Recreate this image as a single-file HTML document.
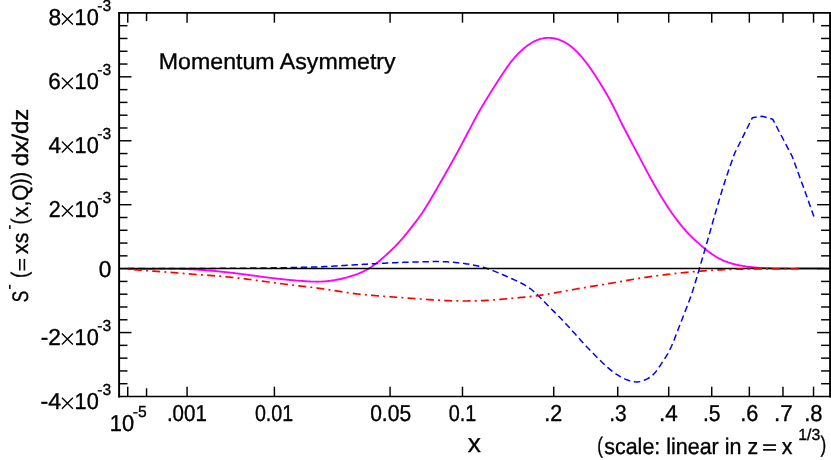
<!DOCTYPE html>
<html><head><meta charset="utf-8"><title>Momentum Asymmetry</title>
<style>
html,body{margin:0;padding:0;background:#fff;}
body{width:831px;height:460px;overflow:hidden;}
svg{display:block;will-change:transform;}
text{font-family:"Liberation Sans",sans-serif;fill:#000;stroke:#000;stroke-width:0.35px;stroke-linejoin:round;text-rendering:geometricPrecision;}
</style></head><body>
<svg width="831" height="460" viewBox="0 0 831 460">
<rect x="0" y="0" width="831" height="460" fill="#fff"/>
<g id="ticks">
<line x1="119.10" y1="25.69" x2="127.50" y2="25.69" stroke="#000" stroke-width="1.45"/>
<line x1="830.10" y1="25.69" x2="821.10" y2="25.69" stroke="#000" stroke-width="1.45"/>
<line x1="119.10" y1="38.47" x2="127.50" y2="38.47" stroke="#000" stroke-width="1.45"/>
<line x1="830.10" y1="38.47" x2="821.10" y2="38.47" stroke="#000" stroke-width="1.45"/>
<line x1="119.10" y1="51.26" x2="127.50" y2="51.26" stroke="#000" stroke-width="1.45"/>
<line x1="830.10" y1="51.26" x2="821.10" y2="51.26" stroke="#000" stroke-width="1.45"/>
<line x1="119.10" y1="64.05" x2="127.50" y2="64.05" stroke="#000" stroke-width="1.45"/>
<line x1="830.10" y1="64.05" x2="821.10" y2="64.05" stroke="#000" stroke-width="1.45"/>
<line x1="119.10" y1="76.83" x2="131.50" y2="76.83" stroke="#000" stroke-width="1.45"/>
<line x1="830.10" y1="76.83" x2="817.10" y2="76.83" stroke="#000" stroke-width="1.45"/>
<line x1="119.10" y1="89.62" x2="127.50" y2="89.62" stroke="#000" stroke-width="1.45"/>
<line x1="830.10" y1="89.62" x2="821.10" y2="89.62" stroke="#000" stroke-width="1.45"/>
<line x1="119.10" y1="102.41" x2="127.50" y2="102.41" stroke="#000" stroke-width="1.45"/>
<line x1="830.10" y1="102.41" x2="821.10" y2="102.41" stroke="#000" stroke-width="1.45"/>
<line x1="119.10" y1="115.19" x2="127.50" y2="115.19" stroke="#000" stroke-width="1.45"/>
<line x1="830.10" y1="115.19" x2="821.10" y2="115.19" stroke="#000" stroke-width="1.45"/>
<line x1="119.10" y1="127.98" x2="127.50" y2="127.98" stroke="#000" stroke-width="1.45"/>
<line x1="830.10" y1="127.98" x2="821.10" y2="127.98" stroke="#000" stroke-width="1.45"/>
<line x1="119.10" y1="140.77" x2="131.50" y2="140.77" stroke="#000" stroke-width="1.45"/>
<line x1="830.10" y1="140.77" x2="817.10" y2="140.77" stroke="#000" stroke-width="1.45"/>
<line x1="119.10" y1="153.55" x2="127.50" y2="153.55" stroke="#000" stroke-width="1.45"/>
<line x1="830.10" y1="153.55" x2="821.10" y2="153.55" stroke="#000" stroke-width="1.45"/>
<line x1="119.10" y1="166.34" x2="127.50" y2="166.34" stroke="#000" stroke-width="1.45"/>
<line x1="830.10" y1="166.34" x2="821.10" y2="166.34" stroke="#000" stroke-width="1.45"/>
<line x1="119.10" y1="179.13" x2="127.50" y2="179.13" stroke="#000" stroke-width="1.45"/>
<line x1="830.10" y1="179.13" x2="821.10" y2="179.13" stroke="#000" stroke-width="1.45"/>
<line x1="119.10" y1="191.91" x2="127.50" y2="191.91" stroke="#000" stroke-width="1.45"/>
<line x1="830.10" y1="191.91" x2="821.10" y2="191.91" stroke="#000" stroke-width="1.45"/>
<line x1="119.10" y1="204.70" x2="131.50" y2="204.70" stroke="#000" stroke-width="1.45"/>
<line x1="830.10" y1="204.70" x2="817.10" y2="204.70" stroke="#000" stroke-width="1.45"/>
<line x1="119.10" y1="217.49" x2="127.50" y2="217.49" stroke="#000" stroke-width="1.45"/>
<line x1="830.10" y1="217.49" x2="821.10" y2="217.49" stroke="#000" stroke-width="1.45"/>
<line x1="119.10" y1="230.27" x2="127.50" y2="230.27" stroke="#000" stroke-width="1.45"/>
<line x1="830.10" y1="230.27" x2="821.10" y2="230.27" stroke="#000" stroke-width="1.45"/>
<line x1="119.10" y1="243.06" x2="127.50" y2="243.06" stroke="#000" stroke-width="1.45"/>
<line x1="830.10" y1="243.06" x2="821.10" y2="243.06" stroke="#000" stroke-width="1.45"/>
<line x1="119.10" y1="255.85" x2="127.50" y2="255.85" stroke="#000" stroke-width="1.45"/>
<line x1="830.10" y1="255.85" x2="821.10" y2="255.85" stroke="#000" stroke-width="1.45"/>
<line x1="119.10" y1="268.63" x2="131.50" y2="268.63" stroke="#000" stroke-width="1.45"/>
<line x1="830.10" y1="268.63" x2="817.10" y2="268.63" stroke="#000" stroke-width="1.45"/>
<line x1="119.10" y1="281.42" x2="127.50" y2="281.42" stroke="#000" stroke-width="1.45"/>
<line x1="830.10" y1="281.42" x2="821.10" y2="281.42" stroke="#000" stroke-width="1.45"/>
<line x1="119.10" y1="294.21" x2="127.50" y2="294.21" stroke="#000" stroke-width="1.45"/>
<line x1="830.10" y1="294.21" x2="821.10" y2="294.21" stroke="#000" stroke-width="1.45"/>
<line x1="119.10" y1="306.99" x2="127.50" y2="306.99" stroke="#000" stroke-width="1.45"/>
<line x1="830.10" y1="306.99" x2="821.10" y2="306.99" stroke="#000" stroke-width="1.45"/>
<line x1="119.10" y1="319.78" x2="127.50" y2="319.78" stroke="#000" stroke-width="1.45"/>
<line x1="830.10" y1="319.78" x2="821.10" y2="319.78" stroke="#000" stroke-width="1.45"/>
<line x1="119.10" y1="332.57" x2="131.50" y2="332.57" stroke="#000" stroke-width="1.45"/>
<line x1="830.10" y1="332.57" x2="817.10" y2="332.57" stroke="#000" stroke-width="1.45"/>
<line x1="119.10" y1="345.35" x2="127.50" y2="345.35" stroke="#000" stroke-width="1.45"/>
<line x1="830.10" y1="345.35" x2="821.10" y2="345.35" stroke="#000" stroke-width="1.45"/>
<line x1="119.10" y1="358.14" x2="127.50" y2="358.14" stroke="#000" stroke-width="1.45"/>
<line x1="830.10" y1="358.14" x2="821.10" y2="358.14" stroke="#000" stroke-width="1.45"/>
<line x1="119.10" y1="370.93" x2="127.50" y2="370.93" stroke="#000" stroke-width="1.45"/>
<line x1="830.10" y1="370.93" x2="821.10" y2="370.93" stroke="#000" stroke-width="1.45"/>
<line x1="119.10" y1="383.71" x2="127.50" y2="383.71" stroke="#000" stroke-width="1.45"/>
<line x1="830.10" y1="383.71" x2="821.10" y2="383.71" stroke="#000" stroke-width="1.45"/>
<line x1="127.74" y1="396.50" x2="127.74" y2="386.70" stroke="#000" stroke-width="1.45"/>
<line x1="127.74" y1="12.90" x2="127.74" y2="22.70" stroke="#000" stroke-width="1.45"/>
<line x1="146.55" y1="396.50" x2="146.55" y2="388.30" stroke="#000" stroke-width="1.45"/>
<line x1="146.55" y1="12.90" x2="146.55" y2="21.10" stroke="#000" stroke-width="1.45"/>
<line x1="187.08" y1="396.50" x2="187.08" y2="386.70" stroke="#000" stroke-width="1.45"/>
<line x1="187.08" y1="12.90" x2="187.08" y2="22.70" stroke="#000" stroke-width="1.45"/>
<line x1="274.39" y1="396.50" x2="274.39" y2="386.70" stroke="#000" stroke-width="1.45"/>
<line x1="274.39" y1="12.90" x2="274.39" y2="22.70" stroke="#000" stroke-width="1.45"/>
<line x1="390.07" y1="396.50" x2="390.07" y2="386.70" stroke="#000" stroke-width="1.45"/>
<line x1="390.07" y1="12.90" x2="390.07" y2="22.70" stroke="#000" stroke-width="1.45"/>
<line x1="462.49" y1="396.50" x2="462.49" y2="386.70" stroke="#000" stroke-width="1.45"/>
<line x1="462.49" y1="12.90" x2="462.49" y2="22.70" stroke="#000" stroke-width="1.45"/>
<line x1="553.74" y1="396.50" x2="553.74" y2="386.70" stroke="#000" stroke-width="1.45"/>
<line x1="553.74" y1="12.90" x2="553.74" y2="22.70" stroke="#000" stroke-width="1.45"/>
<line x1="617.74" y1="396.50" x2="617.74" y2="386.70" stroke="#000" stroke-width="1.45"/>
<line x1="617.74" y1="12.90" x2="617.74" y2="22.70" stroke="#000" stroke-width="1.45"/>
<line x1="668.70" y1="396.50" x2="668.70" y2="386.70" stroke="#000" stroke-width="1.45"/>
<line x1="668.70" y1="12.90" x2="668.70" y2="22.70" stroke="#000" stroke-width="1.45"/>
<line x1="711.73" y1="396.50" x2="711.73" y2="386.70" stroke="#000" stroke-width="1.45"/>
<line x1="711.73" y1="12.90" x2="711.73" y2="22.70" stroke="#000" stroke-width="1.45"/>
<line x1="749.34" y1="396.50" x2="749.34" y2="386.70" stroke="#000" stroke-width="1.45"/>
<line x1="749.34" y1="12.90" x2="749.34" y2="22.70" stroke="#000" stroke-width="1.45"/>
<line x1="782.97" y1="396.50" x2="782.97" y2="386.70" stroke="#000" stroke-width="1.45"/>
<line x1="782.97" y1="12.90" x2="782.97" y2="22.70" stroke="#000" stroke-width="1.45"/>
<line x1="813.54" y1="396.50" x2="813.54" y2="386.70" stroke="#000" stroke-width="1.45"/>
<line x1="813.54" y1="12.90" x2="813.54" y2="22.70" stroke="#000" stroke-width="1.45"/>
</g>
<path d="M127.00,268.75 L128.17,268.78 L129.34,268.81 L130.52,268.84 L131.69,268.86 L132.86,268.88 L134.03,268.90 L135.20,268.91 L136.38,268.92 L137.55,268.93 L138.72,268.94 L139.89,268.95 L141.06,268.95 L142.24,268.95 L143.41,268.95 L144.58,268.95 L145.75,268.95 L146.92,268.95 L148.10,268.94 L149.27,268.94 L150.44,268.93 L151.61,268.93 L152.78,268.92 L153.95,268.91 L155.13,268.90 L156.30,268.90 L157.47,268.89 L158.64,268.88 L159.81,268.88 L160.99,268.87 L162.16,268.86 L163.33,268.86 L164.50,268.85 L165.67,268.85 L166.85,268.85 L168.02,268.85 L169.19,268.85 L170.36,268.85 L171.53,268.85 L172.71,268.86 L173.88,268.87 L175.05,268.88 L176.22,268.89 L177.39,268.91 L178.57,268.92 L179.74,268.94 L180.91,268.96 L182.08,268.99 L183.25,269.02 L184.43,269.05 L185.60,269.09 L186.77,269.12 L187.94,269.17 L189.11,269.21 L190.29,269.26 L191.46,269.32 L192.63,269.37 L193.80,269.44 L194.97,269.50 L196.15,269.57 L197.32,269.64 L198.49,269.72 L199.66,269.79 L200.83,269.88 L202.01,269.96 L203.18,270.05 L204.35,270.14 L205.52,270.23 L206.69,270.32 L207.86,270.42 L209.04,270.52 L210.21,270.62 L211.38,270.72 L212.55,270.83 L213.72,270.93 L214.90,271.04 L216.07,271.15 L217.24,271.26 L218.41,271.38 L219.58,271.49 L220.76,271.61 L221.93,271.73 L223.10,271.85 L224.27,271.98 L225.44,272.10 L226.62,272.23 L227.79,272.36 L228.96,272.49 L230.13,272.62 L231.30,272.76 L232.48,272.90 L233.65,273.04 L234.82,273.18 L235.99,273.32 L237.16,273.47 L238.34,273.61 L239.51,273.76 L240.68,273.91 L241.85,274.07 L243.02,274.22 L244.20,274.37 L245.37,274.53 L246.54,274.68 L247.71,274.84 L248.88,275.00 L250.06,275.16 L251.23,275.31 L252.40,275.47 L253.57,275.63 L254.74,275.79 L255.91,275.95 L257.09,276.11 L258.26,276.27 L259.43,276.42 L260.60,276.58 L261.77,276.74 L262.95,276.89 L264.12,277.05 L265.29,277.20 L266.46,277.35 L267.63,277.50 L268.81,277.65 L269.98,277.80 L271.15,277.95 L272.32,278.09 L273.49,278.23 L274.67,278.37 L275.84,278.51 L277.01,278.65 L278.18,278.78 L279.35,278.91 L280.53,279.04 L281.70,279.16 L282.87,279.29 L284.04,279.40 L285.21,279.52 L286.39,279.63 L287.56,279.74 L288.73,279.85 L289.90,279.96 L291.07,280.06 L292.25,280.16 L293.42,280.26 L294.59,280.36 L295.76,280.45 L296.93,280.55 L298.11,280.65 L299.28,280.74 L300.45,280.84 L301.62,280.93 L302.79,281.03 L303.96,281.12 L305.14,281.21 L306.31,281.29 L307.48,281.37 L308.65,281.44 L309.82,281.51 L311.00,281.57 L312.17,281.62 L313.34,281.66 L314.51,281.68 L315.68,281.70 L316.86,281.70 L318.03,281.69 L319.20,281.66 L320.37,281.63 L321.54,281.58 L322.72,281.51 L323.89,281.44 L325.06,281.35 L326.23,281.24 L327.40,281.13 L328.58,281.00 L329.75,280.86 L330.92,280.70 L332.09,280.54 L333.26,280.36 L334.44,280.17 L335.61,279.96 L336.78,279.75 L337.95,279.52 L339.12,279.28 L340.30,279.03 L341.47,278.76 L342.64,278.49 L343.81,278.20 L344.98,277.90 L346.16,277.59 L347.33,277.27 L348.50,276.94 L349.67,276.60 L350.84,276.24 L352.02,275.88 L353.19,275.50 L354.36,275.11 L355.53,274.69 L356.70,274.27 L357.87,273.82 L359.05,273.35 L360.22,272.86 L361.39,272.35 L362.56,271.81 L363.73,271.25 L364.91,270.66 L366.08,270.03 L367.25,269.38 L368.42,268.70 L369.59,267.98 L370.77,267.23 L371.94,266.45 L373.11,265.63 L374.28,264.79 L375.45,263.92 L376.63,263.03 L377.80,262.11 L378.97,261.17 L380.14,260.21 L381.31,259.22 L382.49,258.22 L383.66,257.20 L384.83,256.16 L386.00,255.11 L387.17,254.05 L388.35,252.97 L389.52,251.88 L390.69,250.78 L391.86,249.66 L393.03,248.52 L394.21,247.36 L395.38,246.18 L396.55,244.97 L397.72,243.74 L398.89,242.47 L400.07,241.18 L401.24,239.85 L402.41,238.49 L403.58,237.11 L404.75,235.70 L405.92,234.28 L407.10,232.83 L408.27,231.37 L409.44,229.89 L410.61,228.41 L411.78,226.91 L412.96,225.42 L414.13,223.91 L415.30,222.40 L416.47,220.87 L417.64,219.31 L418.82,217.72 L419.99,216.08 L421.16,214.41 L422.33,212.68 L423.50,210.91 L424.68,209.09 L425.85,207.24 L427.02,205.35 L428.19,203.43 L429.36,201.49 L430.54,199.51 L431.71,197.52 L432.88,195.51 L434.05,193.49 L435.22,191.46 L436.40,189.42 L437.57,187.38 L438.74,185.34 L439.91,183.30 L441.08,181.26 L442.26,179.22 L443.43,177.18 L444.60,175.13 L445.77,173.08 L446.94,171.02 L448.12,168.96 L449.29,166.89 L450.46,164.81 L451.63,162.72 L452.80,160.63 L453.97,158.52 L455.15,156.40 L456.32,154.28 L457.49,152.13 L458.66,149.98 L459.83,147.81 L461.01,145.62 L462.18,143.42 L463.35,141.21 L464.52,138.99 L465.69,136.76 L466.87,134.53 L468.04,132.30 L469.21,130.06 L470.38,127.83 L471.55,125.60 L472.73,123.37 L473.90,121.16 L475.07,118.96 L476.24,116.78 L477.41,114.63 L478.59,112.51 L479.76,110.43 L480.93,108.38 L482.10,106.38 L483.27,104.41 L484.45,102.47 L485.62,100.55 L486.79,98.65 L487.96,96.76 L489.13,94.87 L490.31,93.00 L491.48,91.13 L492.65,89.27 L493.82,87.42 L494.99,85.58 L496.17,83.74 L497.34,81.92 L498.51,80.10 L499.68,78.29 L500.85,76.49 L502.03,74.70 L503.20,72.93 L504.37,71.18 L505.54,69.45 L506.71,67.76 L507.88,66.10 L509.06,64.48 L510.23,62.91 L511.40,61.38 L512.57,59.91 L513.74,58.50 L514.92,57.14 L516.09,55.84 L517.26,54.59 L518.43,53.39 L519.60,52.24 L520.78,51.13 L521.95,50.07 L523.12,49.05 L524.29,48.07 L525.46,47.13 L526.64,46.23 L527.81,45.36 L528.98,44.53 L530.15,43.75 L531.32,43.01 L532.50,42.32 L533.67,41.67 L534.84,41.07 L536.01,40.52 L537.18,40.02 L538.36,39.58 L539.53,39.19 L540.70,38.85 L541.87,38.57 L543.04,38.33 L544.22,38.14 L545.39,38.00 L546.56,37.91 L547.73,37.86 L548.90,37.85 L550.08,37.89 L551.25,37.98 L552.42,38.10 L553.59,38.28 L554.76,38.50 L555.93,38.76 L557.11,39.08 L558.28,39.44 L559.45,39.84 L560.62,40.30 L561.79,40.80 L562.97,41.35 L564.14,41.95 L565.31,42.60 L566.48,43.30 L567.65,44.05 L568.83,44.85 L570.00,45.70 L571.17,46.60 L572.34,47.55 L573.51,48.55 L574.69,49.61 L575.86,50.72 L577.03,51.87 L578.20,53.08 L579.37,54.34 L580.55,55.64 L581.72,56.99 L582.89,58.39 L584.06,59.83 L585.23,61.31 L586.41,62.84 L587.58,64.40 L588.75,66.01 L589.92,67.65 L591.09,69.33 L592.27,71.04 L593.44,72.78 L594.61,74.55 L595.78,76.35 L596.95,78.17 L598.13,80.01 L599.30,81.87 L600.47,83.75 L601.64,85.65 L602.81,87.57 L603.98,89.52 L605.16,91.49 L606.33,93.50 L607.50,95.55 L608.67,97.64 L609.84,99.77 L611.02,101.96 L612.19,104.20 L613.36,106.49 L614.53,108.83 L615.70,111.21 L616.88,113.61 L618.05,116.02 L619.22,118.41 L620.39,120.79 L621.56,123.14 L622.74,125.47 L623.91,127.77 L625.08,130.04 L626.25,132.30 L627.42,134.55 L628.60,136.78 L629.77,139.00 L630.94,141.21 L632.11,143.42 L633.28,145.62 L634.46,147.82 L635.63,150.03 L636.80,152.24 L637.97,154.46 L639.14,156.68 L640.32,158.91 L641.49,161.13 L642.66,163.35 L643.83,165.57 L645.00,167.78 L646.18,169.98 L647.35,172.17 L648.52,174.35 L649.69,176.51 L650.86,178.66 L652.04,180.78 L653.21,182.89 L654.38,184.97 L655.55,187.03 L656.72,189.06 L657.89,191.07 L659.07,193.06 L660.24,195.02 L661.41,196.96 L662.58,198.87 L663.75,200.75 L664.93,202.61 L666.10,204.44 L667.27,206.24 L668.44,208.01 L669.61,209.76 L670.79,211.48 L671.96,213.17 L673.13,214.83 L674.30,216.45 L675.47,218.05 L676.65,219.62 L677.82,221.16 L678.99,222.67 L680.16,224.14 L681.33,225.58 L682.51,226.99 L683.68,228.37 L684.85,229.72 L686.02,231.03 L687.19,232.31 L688.37,233.56 L689.54,234.78 L690.71,235.97 L691.88,237.13 L693.05,238.27 L694.23,239.39 L695.40,240.49 L696.57,241.56 L697.74,242.61 L698.91,243.65 L700.09,244.67 L701.26,245.68 L702.43,246.67 L703.60,247.65 L704.77,248.61 L705.94,249.55 L707.12,250.48 L708.29,251.38 L709.46,252.27 L710.63,253.12 L711.80,253.96 L712.98,254.76 L714.15,255.54 L715.32,256.28 L716.49,257.00 L717.66,257.68 L718.84,258.33 L720.01,258.94 L721.18,259.52 L722.35,260.07 L723.52,260.59 L724.70,261.08 L725.87,261.55 L727.04,261.98 L728.21,262.40 L729.38,262.79 L730.56,263.16 L731.73,263.50 L732.90,263.83 L734.07,264.14 L735.24,264.44 L736.42,264.72 L737.59,264.98 L738.76,265.23 L739.93,265.47 L741.10,265.69 L742.28,265.90 L743.45,266.09 L744.62,266.28 L745.79,266.45 L746.96,266.62 L748.14,266.77 L749.31,266.91 L750.48,267.04 L751.65,267.16 L752.82,267.28 L753.99,267.38 L755.17,267.48 L756.34,267.57 L757.51,267.66 L758.68,267.74 L759.85,267.81 L761.03,267.88 L762.20,267.94 L763.37,268.00 L764.54,268.06 L765.71,268.11 L766.89,268.16 L768.06,268.20 L769.23,268.24 L770.40,268.28 L771.57,268.31 L772.75,268.34 L773.92,268.37 L775.09,268.40 L776.26,268.42 L777.43,268.44 L778.61,268.46 L779.78,268.48 L780.95,268.49 L782.12,268.51 L783.29,268.52 L784.47,268.53 L785.64,268.53 L786.81,268.54 L787.98,268.54 L789.15,268.55 L790.33,268.55 L791.50,268.55 L792.67,268.55 L793.84,268.55 L795.01,268.55 L796.19,268.55 L797.36,268.54 L798.53,268.54 L799.70,268.54 L800.87,268.53 L802.05,268.53 L803.22,268.52 L804.39,268.52 L805.56,268.51 L806.73,268.51 L807.90,268.51 L809.08,268.50 L810.25,268.50 L811.42,268.50 L812.59,268.49 L813.76,268.49 L814.94,268.49 L816.11,268.49 L817.28,268.50 L818.45,268.50 L819.62,268.50 L820.80,268.51 L821.97,268.52 L823.14,268.53 L824.31,268.54 L825.48,268.55 L826.66,268.56 L827.83,268.58 L829.00,268.60" fill="none" stroke="#ff00ff" stroke-width="1.85" stroke-linejoin="round"/>
<path d="M127.00,268.60 L128.22,268.60 L129.44,268.61 L130.65,268.61 L131.87,268.61 L133.09,268.61 L134.31,268.61 L135.53,268.62 L136.74,268.62 L137.96,268.62 L139.18,268.62 L140.40,268.62 L141.62,268.62 L142.83,268.62 L144.05,268.62 L145.27,268.62 L146.49,268.63 L147.71,268.63 L148.92,268.63 L150.14,268.63 L151.36,268.63 L152.58,268.62 L153.80,268.62 L155.01,268.62 L156.23,268.62 L157.45,268.62 L158.67,268.62 L159.89,268.62 L161.11,268.62 L162.32,268.62 L163.54,268.61 L164.76,268.61 L165.98,268.61 L167.20,268.61 L168.41,268.61 L169.63,268.60 L170.85,268.60 L172.07,268.60 L173.29,268.59 L174.50,268.59 L175.72,268.59 L176.94,268.58 L178.16,268.58 L179.38,268.58 L180.59,268.57 L181.81,268.57 L183.03,268.56 L184.25,268.56 L185.47,268.56 L186.68,268.55 L187.90,268.55 L189.12,268.54 L190.34,268.54 L191.56,268.53 L192.77,268.52 L193.99,268.52 L195.21,268.51 L196.43,268.51 L197.65,268.50 L198.86,268.50 L200.08,268.49 L201.30,268.48 L202.52,268.48 L203.74,268.47 L204.95,268.46 L206.17,268.45 L207.39,268.45 L208.61,268.44 L209.83,268.43 L211.04,268.43 L212.26,268.42 L213.48,268.41 L214.70,268.40 L215.92,268.39 L217.13,268.38 L218.35,268.38 L219.57,268.37 L220.79,268.36 L222.01,268.35 L223.22,268.34 L224.44,268.33 L225.66,268.32 L226.88,268.31 L228.10,268.30 L229.32,268.29 L230.53,268.28 L231.75,268.27 L232.97,268.26 L234.19,268.25 L235.41,268.24 L236.62,268.23 L237.84,268.22 L239.06,268.21 L240.28,268.20 L241.50,268.19 L242.71,268.18 L243.93,268.16 L245.15,268.15 L246.37,268.14 L247.59,268.13 L248.80,268.12 L250.02,268.10 L251.24,268.09 L252.46,268.08 L253.68,268.07 L254.89,268.05 L256.11,268.04 L257.33,268.03 L258.55,268.02 L259.77,268.00 L260.98,267.99 L262.20,267.98 L263.42,267.96 L264.64,267.95 L265.86,267.93 L267.07,267.92 L268.29,267.91 L269.51,267.89 L270.73,267.88 L271.95,267.86 L273.16,267.84 L274.38,267.83 L275.60,267.81 L276.82,267.80 L278.04,267.78 L279.25,267.76 L280.47,267.74 L281.69,267.73 L282.91,267.71 L284.13,267.69 L285.34,267.67 L286.56,267.65 L287.78,267.63 L289.00,267.61 L290.22,267.59 L291.43,267.57 L292.65,267.55 L293.87,267.52 L295.09,267.50 L296.31,267.48 L297.53,267.45 L298.74,267.43 L299.96,267.40 L301.18,267.37 L302.40,267.35 L303.62,267.32 L304.83,267.29 L306.05,267.26 L307.27,267.23 L308.49,267.20 L309.71,267.16 L310.92,267.13 L312.14,267.09 L313.36,267.05 L314.58,267.01 L315.80,266.97 L317.01,266.92 L318.23,266.87 L319.45,266.82 L320.67,266.77 L321.89,266.71 L323.10,266.65 L324.32,266.59 L325.54,266.53 L326.76,266.47 L327.98,266.41 L329.19,266.34 L330.41,266.27 L331.63,266.20 L332.85,266.14 L334.07,266.06 L335.28,265.99 L336.50,265.92 L337.72,265.85 L338.94,265.77 L340.16,265.70 L341.37,265.63 L342.59,265.55 L343.81,265.48 L345.03,265.40 L346.25,265.33 L347.46,265.25 L348.68,265.18 L349.90,265.11 L351.12,265.03 L352.34,264.96 L353.55,264.89 L354.77,264.82 L355.99,264.75 L357.21,264.68 L358.43,264.61 L359.64,264.54 L360.86,264.47 L362.08,264.40 L363.30,264.33 L364.52,264.27 L365.74,264.20 L366.95,264.13 L368.17,264.07 L369.39,264.00 L370.61,263.94 L371.83,263.87 L373.04,263.80 L374.26,263.74 L375.48,263.67 L376.70,263.61 L377.92,263.55 L379.13,263.48 L380.35,263.42 L381.57,263.35 L382.79,263.29 L384.01,263.23 L385.22,263.17 L386.44,263.11 L387.66,263.05 L388.88,262.99 L390.10,262.93 L391.31,262.87 L392.53,262.82 L393.75,262.76 L394.97,262.71 L396.19,262.66 L397.40,262.60 L398.62,262.55 L399.84,262.51 L401.06,262.46 L402.28,262.41 L403.49,262.37 L404.71,262.33 L405.93,262.29 L407.15,262.24 L408.37,262.20 L409.58,262.17 L410.80,262.13 L412.02,262.09 L413.24,262.05 L414.46,262.02 L415.67,261.98 L416.89,261.94 L418.11,261.91 L419.33,261.87 L420.55,261.84 L421.76,261.81 L422.98,261.78 L424.20,261.75 L425.42,261.72 L426.64,261.70 L427.85,261.67 L429.07,261.65 L430.29,261.64 L431.51,261.62 L432.73,261.61 L433.95,261.60 L435.16,261.60 L436.38,261.60 L437.60,261.60 L438.82,261.61 L440.04,261.63 L441.25,261.65 L442.47,261.68 L443.69,261.71 L444.91,261.75 L446.13,261.81 L447.34,261.86 L448.56,261.93 L449.78,262.01 L451.00,262.09 L452.22,262.19 L453.43,262.29 L454.65,262.40 L455.87,262.51 L457.09,262.64 L458.31,262.77 L459.52,262.91 L460.74,263.06 L461.96,263.21 L463.18,263.37 L464.40,263.54 L465.61,263.72 L466.83,263.90 L468.05,264.09 L469.27,264.29 L470.49,264.50 L471.70,264.72 L472.92,264.95 L474.14,265.19 L475.36,265.44 L476.58,265.70 L477.79,265.98 L479.01,266.27 L480.23,266.57 L481.45,266.89 L482.67,267.22 L483.88,267.57 L485.10,267.93 L486.32,268.31 L487.54,268.70 L488.76,269.11 L489.97,269.54 L491.19,269.98 L492.41,270.43 L493.63,270.90 L494.85,271.37 L496.06,271.86 L497.28,272.36 L498.50,272.87 L499.72,273.38 L500.94,273.90 L502.16,274.43 L503.37,274.96 L504.59,275.50 L505.81,276.04 L507.03,276.58 L508.25,277.13 L509.46,277.67 L510.68,278.22 L511.90,278.77 L513.12,279.31 L514.34,279.85 L515.55,280.40 L516.77,280.96 L517.99,281.53 L519.21,282.11 L520.43,282.71 L521.64,283.33 L522.86,283.98 L524.08,284.65 L525.30,285.36 L526.52,286.10 L527.73,286.88 L528.95,287.71 L530.17,288.58 L531.39,289.50 L532.61,290.47 L533.82,291.50 L535.04,292.58 L536.26,293.71 L537.48,294.88 L538.70,296.08 L539.91,297.30 L541.13,298.54 L542.35,299.79 L543.57,301.05 L544.79,302.30 L546.00,303.54 L547.22,304.77 L548.44,306.01 L549.66,307.23 L550.88,308.46 L552.09,309.68 L553.31,310.90 L554.53,312.12 L555.75,313.35 L556.97,314.58 L558.18,315.81 L559.40,317.05 L560.62,318.30 L561.84,319.56 L563.06,320.83 L564.27,322.11 L565.49,323.41 L566.71,324.71 L567.93,326.03 L569.15,327.37 L570.37,328.71 L571.58,330.05 L572.80,331.41 L574.02,332.76 L575.24,334.12 L576.46,335.48 L577.67,336.84 L578.89,338.20 L580.11,339.55 L581.33,340.90 L582.55,342.24 L583.76,343.57 L584.98,344.89 L586.20,346.20 L587.42,347.49 L588.64,348.77 L589.85,350.04 L591.07,351.30 L592.29,352.55 L593.51,353.79 L594.73,355.02 L595.94,356.24 L597.16,357.46 L598.38,358.68 L599.60,359.88 L600.82,361.08 L602.03,362.26 L603.25,363.42 L604.47,364.57 L605.69,365.69 L606.91,366.79 L608.12,367.86 L609.34,368.90 L610.56,369.91 L611.78,370.88 L613.00,371.82 L614.21,372.72 L615.43,373.59 L616.65,374.42 L617.87,375.20 L619.09,375.95 L620.30,376.66 L621.52,377.33 L622.74,377.95 L623.96,378.53 L625.18,379.07 L626.39,379.57 L627.61,380.03 L628.83,380.44 L630.05,380.82 L631.27,381.15 L632.48,381.44 L633.70,381.66 L633.83,381.68" fill="none" stroke="#0000ff" stroke-width="1.5" stroke-dasharray="6.450 3.700" stroke-dashoffset="8.90" stroke-linejoin="round"/>
<path d="M633.83,381.68 L634.92,381.82 L636.14,381.90 L637.36,381.88 L638.58,381.77 L639.79,381.56 L641.01,381.28 L642.23,380.93 L643.45,380.51 L644.67,380.03 L645.88,379.50 L647.10,378.91 L648.32,378.25 L649.54,377.50 L650.76,376.65 L651.97,375.68 L653.19,374.58 L654.41,373.33 L655.63,371.93 L656.85,370.37 L658.06,368.69 L659.28,366.92 L660.50,365.08 L661.72,363.20 L662.94,361.31 L664.15,359.43 L665.37,357.54 L666.59,355.58 L667.81,353.53 L669.03,351.32 L670.24,348.92 L671.46,346.29 L672.68,343.46 L673.90,340.47 L675.12,337.36 L676.33,334.19 L677.55,331.00 L678.77,327.83 L679.99,324.68 L681.21,321.54 L682.42,318.42 L683.64,315.30 L684.86,312.19 L686.08,309.08 L687.30,305.93 L688.51,302.72 L689.73,299.42 L690.95,295.98 L692.17,292.39 L693.39,288.63 L694.60,284.71 L695.82,280.67 L697.04,276.56 L698.26,272.40 L699.48,268.24 L700.69,264.09 L701.91,259.95 L703.13,255.80 L704.35,251.65 L705.57,247.46 L706.79,243.23 L708.00,238.97 L709.22,234.69 L710.44,230.39 L711.66,226.09 L712.88,221.79 L714.09,217.50 L715.31,213.24 L716.53,209.01 L717.75,204.83 L718.97,200.70 L720.18,196.62 L721.40,192.60 L722.62,188.66 L723.84,184.80 L725.06,181.01 L726.27,177.31 L727.49,173.68 L728.71,170.11 L729.93,166.60 L731.15,163.14 L732.36,159.72 L733.58,156.35 L734.80,153.00 L752.40,117.70 L762.10,116.30 L772.70,119.20 L792.00,156.00 L803.90,188.40 L813.90,216.60" fill="none" stroke="#0000ff" stroke-width="1.5" stroke-dasharray="6.484 3.720" stroke-linejoin="round"/>
<line x1="119.1" y1="268.55" x2="830.1" y2="268.55" stroke="#000" stroke-width="1.4"/>
<path d="M127.50,269.20 L129.18,269.33 L130.86,269.46 L132.55,269.59 L134.23,269.72 L135.91,269.84 L137.59,269.97 L139.27,270.09 L140.95,270.21 L142.64,270.33 L144.32,270.46 L146.00,270.58 L147.68,270.70 L149.36,270.82 L151.04,270.94 L152.73,271.06 L154.41,271.18 L156.09,271.31 L157.77,271.43 L159.45,271.55 L161.13,271.68 L162.82,271.81 L164.50,271.93 L166.18,272.06 L167.86,272.19 L169.54,272.32 L171.22,272.45 L172.91,272.59 L174.59,272.72 L176.27,272.86 L177.95,273.00 L179.63,273.13 L181.31,273.27 L183.00,273.41 L184.68,273.55 L186.36,273.69 L188.04,273.83 L189.72,273.97 L191.40,274.10 L193.09,274.23 L194.77,274.36 L196.45,274.48 L198.13,274.60 L199.81,274.72 L201.49,274.83 L203.18,274.95 L204.86,275.07 L206.54,275.18 L208.22,275.30 L209.90,275.42 L211.59,275.54 L213.27,275.67 L214.95,275.80 L216.63,275.93 L218.31,276.07 L219.99,276.21 L221.68,276.36 L223.36,276.52 L225.04,276.67 L226.72,276.84 L228.40,277.00 L230.08,277.18 L231.77,277.35 L233.45,277.53 L235.13,277.71 L236.81,277.90 L238.49,278.09 L240.17,278.29 L241.86,278.49 L243.54,278.69 L245.22,278.90 L246.90,279.10 L248.58,279.31 L250.26,279.53 L251.95,279.74 L253.63,279.96 L255.31,280.18 L256.99,280.40 L258.67,280.62 L260.35,280.85 L262.04,281.07 L263.72,281.30 L265.40,281.52 L267.08,281.75 L268.76,281.98 L270.44,282.21 L272.13,282.43 L273.81,282.66 L275.49,282.89 L277.17,283.11 L278.85,283.34 L280.54,283.56 L282.22,283.78 L283.90,284.00 L285.58,284.22 L287.26,284.44 L288.94,284.65 L290.63,284.87 L292.31,285.08 L293.99,285.28 L295.67,285.49 L297.35,285.69 L299.03,285.89 L300.72,286.08 L302.40,286.27 L304.08,286.46 L305.76,286.65 L307.44,286.84 L309.12,287.04 L310.81,287.23 L312.49,287.43 L314.17,287.64 L315.85,287.85 L317.53,288.07 L319.21,288.30 L320.90,288.54 L322.58,288.78 L324.26,289.04 L325.94,289.29 L327.62,289.55 L329.30,289.82 L330.99,290.09 L332.67,290.35 L334.35,290.62 L336.03,290.89 L337.71,291.16 L339.39,291.43 L341.08,291.69 L342.76,291.95 L344.44,292.20 L346.12,292.45 L347.80,292.69 L349.48,292.93 L351.17,293.16 L352.85,293.37 L354.53,293.58 L356.21,293.79 L357.89,293.98 L359.58,294.17 L361.26,294.35 L362.94,294.53 L364.62,294.69 L366.30,294.86 L367.98,295.02 L369.67,295.17 L371.35,295.32 L373.03,295.46 L374.71,295.60 L376.39,295.74 L378.07,295.88 L379.76,296.01 L381.44,296.14 L383.12,296.27 L384.80,296.39 L386.48,296.52 L388.16,296.64 L389.85,296.77 L391.53,296.89 L393.21,297.02 L394.89,297.14 L396.57,297.27 L398.25,297.39 L399.94,297.52 L401.62,297.64 L403.30,297.77 L404.98,297.89 L406.66,298.02 L408.34,298.14 L410.03,298.27 L411.71,298.39 L413.39,298.52 L415.07,298.64 L416.75,298.77 L418.43,298.89 L420.12,299.01 L421.80,299.13 L423.48,299.25 L425.16,299.36 L426.84,299.48 L428.53,299.59 L430.21,299.70 L431.89,299.81 L433.57,299.92 L435.25,300.02 L436.93,300.12 L438.62,300.21 L440.30,300.30 L441.98,300.38 L443.66,300.47 L444.24,300.49" fill="none" stroke="#ff0000" stroke-width="1.7" stroke-dasharray="7.926 4.264 1.906 4.254" stroke-dashoffset="11.89"/>
<path d="M444.24,300.49 L445.34,300.54 L447.02,300.61 L448.71,300.68 L450.39,300.74 L452.07,300.79 L453.75,300.84 L455.43,300.88 L457.11,300.91 L458.80,300.94 L460.48,300.96 L462.16,300.98 L463.84,300.99 L465.52,300.99 L467.20,300.98 L468.89,300.97 L470.57,300.96 L472.25,300.93 L473.93,300.90 L475.61,300.86 L477.29,300.81 L478.98,300.75 L480.66,300.69 L482.34,300.62 L484.02,300.54 L485.70,300.46 L487.38,300.37 L489.07,300.26 L490.75,300.15 L492.43,300.04 L494.11,299.91 L495.79,299.78 L497.47,299.63 L499.16,299.48 L500.84,299.33 L502.52,299.17 L504.20,299.01 L505.88,298.85 L507.57,298.69 L509.25,298.54 L510.93,298.38 L512.61,298.23 L514.29,298.08 L515.97,297.93 L517.66,297.77 L519.34,297.62 L521.02,297.46 L522.70,297.30 L524.38,297.14 L526.06,296.97 L527.75,296.79 L529.43,296.61 L531.11,296.43 L532.79,296.23 L534.47,296.03 L536.15,295.82 L537.84,295.60 L539.52,295.37 L541.20,295.13 L542.88,294.87 L544.56,294.61 L546.24,294.34 L547.93,294.06 L549.61,293.77 L551.29,293.48 L552.97,293.19 L554.65,292.88 L556.33,292.58 L558.02,292.27 L559.70,291.97 L561.38,291.66 L563.06,291.35 L564.74,291.05 L566.42,290.74 L568.11,290.44 L569.79,290.15 L571.47,289.85 L573.15,289.56 L574.83,289.26 L576.52,288.97 L578.20,288.69 L579.88,288.40 L581.56,288.11 L583.24,287.83 L584.92,287.55 L586.61,287.27 L588.29,286.99 L589.97,286.71 L591.65,286.43 L593.33,286.15 L595.01,285.87 L596.70,285.59 L598.38,285.31 L600.06,285.03 L601.74,284.75 L603.42,284.47 L605.10,284.19 L606.79,283.90 L608.47,283.62 L610.15,283.33 L611.83,283.05 L613.51,282.76 L615.19,282.47 L616.88,282.17 L618.56,281.88 L620.24,281.58 L621.92,281.29 L623.60,280.99 L625.28,280.70 L626.97,280.40 L628.65,280.11 L630.33,279.82 L632.01,279.53 L633.69,279.24 L635.37,278.96 L637.06,278.68 L638.74,278.40 L640.42,278.13 L642.10,277.87 L643.78,277.61 L645.46,277.35 L647.15,277.10 L648.83,276.86 L650.51,276.61 L652.19,276.38 L653.87,276.14 L655.56,275.91 L657.24,275.69 L658.92,275.47 L660.60,275.25 L662.28,275.04 L663.96,274.83 L665.65,274.62 L667.33,274.42 L669.01,274.22 L670.69,274.02 L672.37,273.83 L674.05,273.64 L675.74,273.45 L677.42,273.27 L679.10,273.09 L680.78,272.91 L682.46,272.74 L684.14,272.57 L685.83,272.40 L687.51,272.24 L689.19,272.08 L690.87,271.92 L692.55,271.77 L694.23,271.62 L695.92,271.47 L697.60,271.33 L699.28,271.19 L700.96,271.06 L702.64,270.93 L704.32,270.80 L706.01,270.68 L707.69,270.56 L709.37,270.45 L711.05,270.34 L712.73,270.23 L714.41,270.13 L716.10,270.04 L717.78,269.95 L719.46,269.86 L721.14,269.78 L722.82,269.71 L724.51,269.63 L726.19,269.56 L727.87,269.50 L729.55,269.44 L731.23,269.38 L732.91,269.33 L734.60,269.28 L736.28,269.23 L737.96,269.19 L739.64,269.15 L741.32,269.11 L743.00,269.08 L744.69,269.05 L746.37,269.02 L748.05,268.99 L749.73,268.97 L751.41,268.95 L753.09,268.93 L754.78,268.91 L756.46,268.89 L758.14,268.88 L759.82,268.86 L761.50,268.85 L763.18,268.84 L764.87,268.83 L766.55,268.82 L768.23,268.82 L769.91,268.81 L771.59,268.80 L773.27,268.80 L774.96,268.79 L776.64,268.79 L778.32,268.79 L780.00,268.78 L781.68,268.78 L783.36,268.77 L785.05,268.77 L786.73,268.76 L788.41,268.76 L790.09,268.75 L791.77,268.74 L793.45,268.73 L795.14,268.72 L796.82,268.71 L798.50,268.70" fill="none" stroke="#ff0000" stroke-width="1.7" stroke-dasharray="7.924 4.263 1.906 4.253"/>
<g stroke="#000" stroke-linecap="square">
<line x1="119.1" y1="12.9" x2="119.1" y2="396.5" stroke-width="1.95"/>
<line x1="830.1" y1="12.9" x2="830.1" y2="396.5" stroke-width="1.95"/>
<line x1="119.1" y1="12.9" x2="830.1" y2="12.9" stroke-width="1.6"/>
<line x1="119.1" y1="396.5" x2="830.1" y2="396.5" stroke-width="1.6"/>
</g>
<g id="labels">
<text transform="translate(48.61,25.20) scale(0.9860,1)" font-size="23">8</text>
<text transform="translate(74.55,25.20) scale(0.9443,1)" font-size="23">10</text>
<text transform="translate(97.37,10.50) scale(0.9725,1)" font-size="16">-3</text>
<text transform="translate(48.30,89.30) scale(0.9788,1)" font-size="23">6</text>
<text transform="translate(74.55,89.30) scale(0.9443,1)" font-size="23">10</text>
<text transform="translate(97.37,74.70) scale(0.9725,1)" font-size="16">-3</text>
<text transform="translate(48.51,153.00) scale(0.9806,1)" font-size="23">4</text>
<text transform="translate(74.55,153.00) scale(0.9443,1)" font-size="23">10</text>
<text transform="translate(97.37,138.60) scale(0.9725,1)" font-size="16">-3</text>
<text transform="translate(48.85,217.00) scale(0.9333,1)" font-size="23">2</text>
<text transform="translate(74.55,217.00) scale(0.9443,1)" font-size="23">10</text>
<text transform="translate(97.37,202.60) scale(0.9725,1)" font-size="16">-3</text>
<text transform="translate(40.71,345.10) scale(0.9863,1)" font-size="23">-2</text>
<text transform="translate(74.55,345.10) scale(0.9443,1)" font-size="23">10</text>
<text transform="translate(97.37,330.90) scale(0.9725,1)" font-size="16">-3</text>
<text transform="translate(40.49,409.30) scale(1.0080,1)" font-size="23">-4</text>
<text transform="translate(74.55,409.30) scale(0.9443,1)" font-size="23">10</text>
<text transform="translate(97.37,394.70) scale(0.9725,1)" font-size="16">-3</text>
<text transform="translate(98.74,277.00) scale(0.9818,1)" font-size="23">0</text>
<text transform="translate(166.91,421.00) scale(0.8916,1)" font-size="23">.001</text>
<text transform="translate(254.95,421.00) scale(0.8538,1)" font-size="23">0.01</text>
<text transform="translate(370.15,421.00) scale(0.9155,1)" font-size="23">0.05</text>
<text transform="translate(448.85,421.00) scale(0.8600,1)" font-size="23">0.1</text>
<text transform="translate(544.22,421.00) scale(0.9323,1)" font-size="23">.2</text>
<text transform="translate(609.17,421.00) scale(0.9062,1)" font-size="23">.3</text>
<text transform="translate(659.12,421.00) scale(0.9771,1)" font-size="23">.4</text>
<text transform="translate(702.95,421.00) scale(0.9178,1)" font-size="23">.5</text>
<text transform="translate(740.29,421.00) scale(0.9438,1)" font-size="23">.6</text>
<text transform="translate(773.93,421.00) scale(0.9764,1)" font-size="23">.7</text>
<text transform="translate(804.17,421.00) scale(0.9562,1)" font-size="23">.8</text>
<text transform="translate(109.84,430.60) scale(0.9486,1)" font-size="23">10</text>
<text transform="translate(132.87,416.60) scale(0.9786,1)" font-size="16">-5</text>
<text transform="translate(467.82,452.40) scale(1.0122,1)" font-size="26">x</text>
<text transform="translate(597.17,452.50) scale(0.7489,1)" font-size="22.5">(</text>
<text transform="translate(604.20,453.60) scale(0.9541,1)" font-size="22.5">scale: linear in z</text>
<text transform="translate(781.76,453.60) scale(0.9488,1)" font-size="22.5">x</text>
<text transform="translate(798.27,439.80) scale(0.9877,1)" font-size="16">1/3</text>
<text transform="translate(820.61,451.70) scale(0.7660,1)" font-size="22.5">)</text>
<text transform="translate(158.77,69.20) scale(1.0297,1)" font-size="22.5">Momentum Asymmetry</text>
<path d="M61.9,13.60 L72.9,24.60 M61.9,24.60 L72.9,13.60" stroke="#000" stroke-width="1.35" fill="none"/>
<path d="M61.9,77.70 L72.9,88.70 M61.9,88.70 L72.9,77.70" stroke="#000" stroke-width="1.35" fill="none"/>
<path d="M61.9,141.40 L72.9,152.40 M61.9,152.40 L72.9,141.40" stroke="#000" stroke-width="1.35" fill="none"/>
<path d="M61.9,205.40 L72.9,216.40 M61.9,216.40 L72.9,205.40" stroke="#000" stroke-width="1.35" fill="none"/>
<path d="M61.9,333.50 L72.9,344.50 M61.9,344.50 L72.9,333.50" stroke="#000" stroke-width="1.35" fill="none"/>
<path d="M61.9,397.70 L72.9,408.70 M61.9,408.70 L72.9,397.70" stroke="#000" stroke-width="1.35" fill="none"/>
<g transform="translate(28.4,301.6) rotate(-90)">
<text transform="translate(-0.76,0.00) scale(0.7615,1)" font-size="22.5">S</text>
<text transform="translate(23.65,-1.20) scale(0.8340,1)" font-size="22.5">(</text>
<text transform="translate(47.66,0.00) scale(0.9450,1)" font-size="22.5">xs</text>
<text transform="translate(77.18,-1.20) scale(0.8170,1)" font-size="22.5">(</text>
<text transform="translate(84.67,0.00) scale(0.9219,1)" font-size="22.5">x,Q</text>
<text transform="translate(116.59,-1.20) scale(0.8598,1)" font-size="22.5">))</text>
<text transform="translate(135.33,0.00) scale(1.0731,1)" font-size="22.5">dx/dz</text>
</g>
<rect x="9.1" y="284.8" width="1.5" height="4.2" fill="#000"/>
<rect x="19.0" y="258.9" width="1.6" height="11.6" fill="#000"/><rect x="23.6" y="258.9" width="1.6" height="11.6" fill="#000"/>
<rect x="763.1" y="444.25" width="12.9" height="1.65" fill="#000"/><rect x="763.1" y="449.05" width="12.9" height="1.65" fill="#000"/>
<rect x="9.1" y="225.2" width="1.5" height="3.8" fill="#000"/>
</g>
</svg>
</body></html>
